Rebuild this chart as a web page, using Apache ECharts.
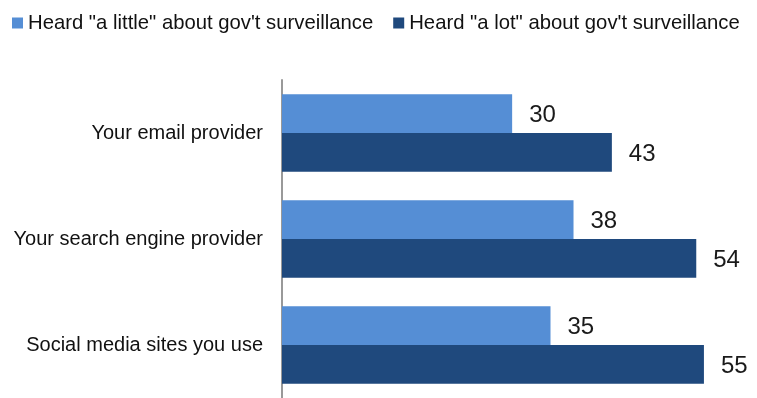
<!DOCTYPE html>
<html><head><meta charset="utf-8">
<script src="https://cdn.jsdelivr.net/npm/echarts@6/dist/echarts.min.js"></script>
<style>html,body{margin:0;padding:0;background:#fff}#c{width:757px;height:398px}</style>
</head><body><div id="c"></div>
<script>
const categories = ["Your email provider", "Your search engine provider", "Social media sites you use"];
const seriesNames = ['Heard "a little" about gov\'t surveillance', 'Heard "a lot" about gov\'t surveillance'];
const aLittle = [30, 38, 35];
const aLot = [43, 54, 55];

const chart = echarts.init(document.getElementById('c'), null, {renderer: 'canvas'});
const labelStyle = {show: true, position: 'right', distance: 17, color: '#1a1a1a', fontSize: 24, fontFamily: 'Arial, "Liberation Sans", sans-serif', offset: [0, 2]};
chart.setOption({
  animation: false,
  legend: {
    top: 8, left: 7, itemWidth: 11, itemHeight: 11, itemGap: 20,
    icon: 'rect',
    textStyle: {fontSize: 20.3, color: '#111', fontFamily: 'Arial, "Liberation Sans", sans-serif'},
    data: seriesNames
  },
  grid: {left: 282, right: 50, top: 80, bottom: -3, containLabel: false},
  xAxis: {type: 'value', min: 0, max: 55.4, show: false},
  yAxis: {
    type: 'category', data: categories, inverse: true,
    axisLine: {show: true, lineStyle: {color: '#999', width: 2}},
    axisTick: {show: false},
    axisLabel: {fontSize: 20, color: '#111', margin: 19, fontFamily: 'Arial, "Liberation Sans", sans-serif'}
  },
  series: [
    {name: seriesNames[0], type: 'bar', data: aLittle, barGap: '0%', barCategoryGap: '27%',
     itemStyle: {color: '#558ED5'}, label: labelStyle},
    {name: seriesNames[1], type: 'bar', data: aLot, barGap: '0%', barCategoryGap: '27%',
     itemStyle: {color: '#1F497D'}, label: labelStyle}
  ]
});
</script></body></html>
